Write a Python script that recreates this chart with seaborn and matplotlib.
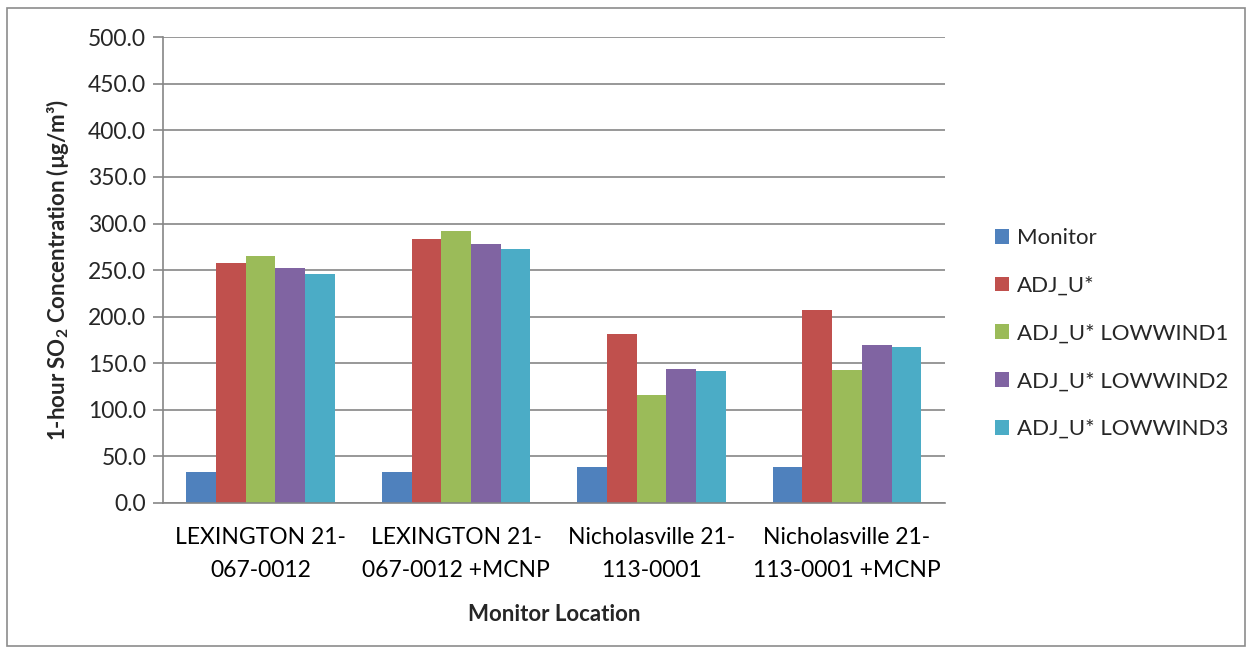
import matplotlib
matplotlib.use("Agg")
import matplotlib.pyplot as plt
import seaborn as sns
import pandas as pd
from matplotlib.patches import Rectangle
from matplotlib.ticker import FuncFormatter, FixedLocator

# Monitor locations (x categories)
locations = [
    "LEXINGTON 21-\n067-0012",
    "LEXINGTON 21-\n067-0012 +MCNP",
    "Nicholasville 21-\n113-0001",
    "Nicholasville 21-\n113-0001 +MCNP",
]

# Model runs / series
series = ["Monitor", "ADJ_U*", "ADJ_U* LOWWIND1", "ADJ_U* LOWWIND2", "ADJ_U* LOWWIND3"]

# 1-hour SO2 design values (µg/m³) per series, one value per location
monitor = [33.0, 33.0, 38.7, 38.7]
adj_u = [257.5, 283.6, 181.2, 207.0]
lowwind1 = [265.3, 291.5, 116.0, 142.2]
lowwind2 = [251.8, 277.9, 143.3, 169.4]
lowwind3 = [246.0, 272.2, 141.5, 167.6]

colors = ["#4F81BD", "#C0504D", "#9BBB59", "#8064A2", "#4BACC6"]

yticks = [0, 50, 100, 150, 200, 250, 300, 350, 400, 450, 500]

rows = []
for name, vals in zip(series, [monitor, adj_u, lowwind1, lowwind2, lowwind3]):
    for loc, v in zip(locations, vals):
        rows.append({"Location": loc, "Series": name, "Value": v})
df = pd.DataFrame(rows)

sns.set_theme(style="white")
plt.rcParams["font.family"] = ["Lato", "DejaVu Sans"]
plt.rcParams["mathtext.fontset"] = "custom"
plt.rcParams["mathtext.bf"] = "Lato:bold"
plt.rcParams["mathtext.rm"] = "Lato"

fig = plt.figure(figsize=(12.53, 6.54), dpi=100)
ax = fig.add_axes([0.130, 0.231, 0.624, 0.712])

sns.barplot(data=df, x="Location", y="Value", hue="Series", order=locations,
            hue_order=series, palette=colors, width=0.76, gap=0,
            saturation=1, ax=ax, legend=False, edgecolor="none")

grid_c = "#868686"
ax.set_ylim(0, 500)
ax.set_xlim(-0.5, 3.5)
ax.set_yticks(yticks)
ax.yaxis.set_major_formatter(FuncFormatter(lambda v, p: f"{v:.1f}"))
ax.yaxis.grid(True, color=grid_c, linewidth=1.2)
ax.set_axisbelow(True)

# category boundary ticks on the x axis
ax.xaxis.set_minor_locator(FixedLocator([-0.5, 0.5, 1.5, 2.5, 3.5]))
ax.tick_params(axis="x", which="major", length=0, labelsize=16.5, pad=17, colors="black")
ax.tick_params(axis="x", which="minor", length=7, width=1.2, color=grid_c, direction="out")
ax.tick_params(axis="y", which="major", length=7, width=1.2, color=grid_c,
               direction="out", labelsize=16.5, pad=5, left=True)
for lab in ax.get_xticklabels():
    lab.set_linespacing(1.75)

for s in ["top", "right"]:
    ax.spines[s].set_visible(False)
for s in ["left", "bottom"]:
    ax.spines[s].set_color(grid_c)
    ax.spines[s].set_linewidth(1.2)

ax.set_xlabel("Monitor Location", fontsize=16, fontweight="bold", labelpad=16)
ax.set_ylabel(r"1-hour SO$_\mathbf{2}$ Concentration (µg/m³)", fontsize=16,
              fontweight="bold", labelpad=12)

handles = [Rectangle((0, 0), 1, 1, facecolor=c, edgecolor="none") for c in colors]
fig.legend(handles, series, loc="center left", bbox_to_anchor=(0.778, 0.49),
           frameon=False, fontsize=16, labelspacing=1.25, handlelength=0.65,
           handleheight=0.65, handletextpad=0.35)

# chart-area border
fig.patches.append(Rectangle((7 / 1253, 8 / 654), 1238 / 1253, 638 / 654,
                             transform=fig.transFigure, fill=False,
                             edgecolor="#8c8c8c", linewidth=1.2))

fig.savefig("out.png", dpi=100)
